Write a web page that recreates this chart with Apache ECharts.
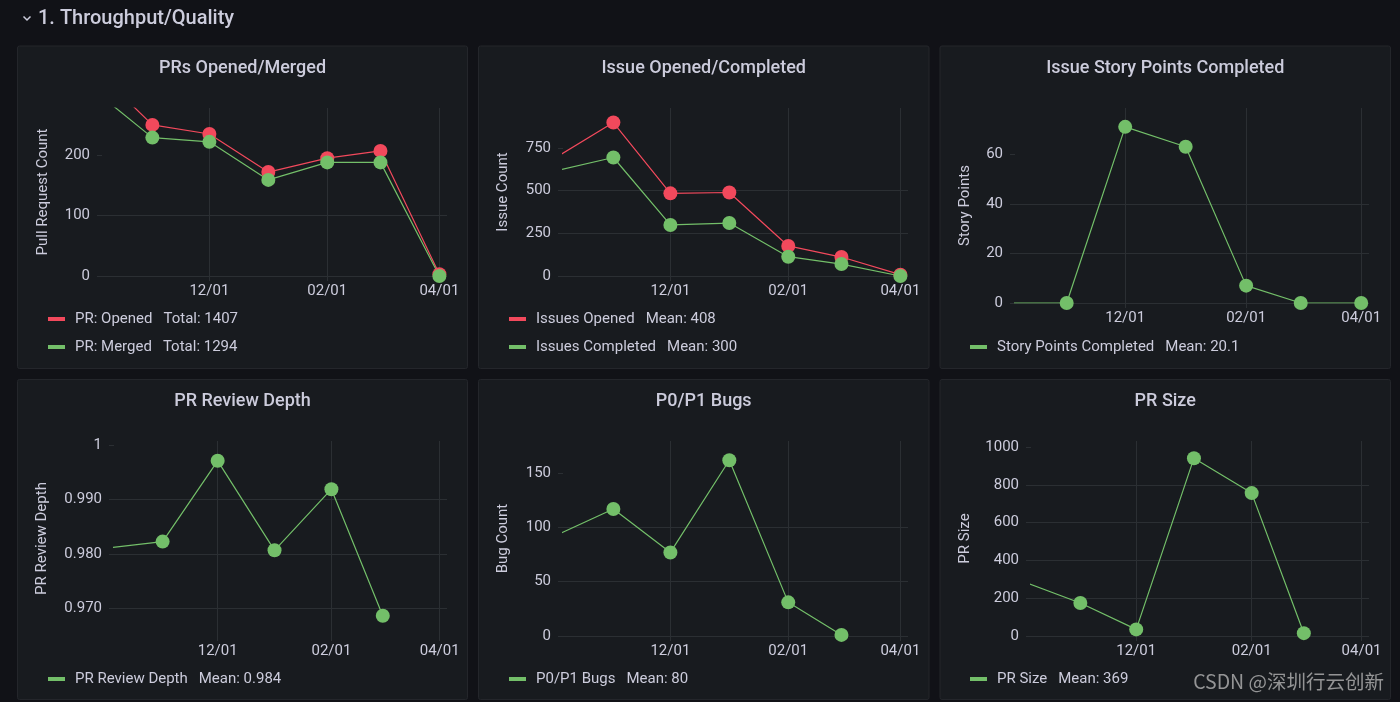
<!DOCTYPE html>
<html>
<head>
<meta charset="utf-8">
<script src="https://cdn.jsdelivr.net/npm/echarts@6/dist/echarts.min.js"></script>
<style>
html,body{margin:0;padding:0;background:#111217;}
#c{width:1400px;height:702px;}
</style>
</head>
<body>
<div id="c"></div>
<script>
// ---------- data ----------
const months = ['2022-10-01','2022-11-01','2022-12-01','2023-01-01','2023-02-01','2023-03-01','2023-04-01'];
const xTickDates = ['2022-12-01','2023-02-01','2023-04-01'];

const prOpened = [345, 250, 235, 172, 195, 207, 3];
const prMerged = [308, 229, 222, 159, 188, 188, 0];
const issuesOpened = [689, 899, 484, 489, 176, 111, 8];
const issuesCompleted = [615, 694, 299, 310, 113, 70, 0];
const storyPoints = [0, 0, 71, 63, 7, 0, 0];
const reviewDepth = [0.9811, 0.9823, 0.9971, 0.9807, 0.9919, 0.9687];
const bugs = [92, 117, 77, 162, 31, 1];
const prSize = [290, 175, 35, 942, 757, 15];

const yTicksPR = [0, 100, 200];
const yTicksIssues = [0, 250, 500, 750];
const yTicksStory = [0, 20, 40, 60];
const yTicksDepth = [0.97, 0.98, 0.99, 1];
const yTicksBugs = [0, 50, 100, 150];
const yTicksSize = [0, 200, 400, 600, 800, 1000];

const panelTitles = ['PRs Opened/Merged', 'Issue Opened/Completed', 'Issue Story Points Completed', 'PR Review Depth', 'P0/P1 Bugs', 'PR Size'];
const yAxisNames = ['Pull Request Count', 'Issue Count', 'Story Points', 'PR Review Depth', 'Bug Count', 'PR Size'];
const sectionTitle = '1. Throughput/Quality';
const watermark = 'CSDN @深圳行云创新';

// ---------- helpers ----------
function ts(s) { const p = s.split('-').map(Number); return new Date(p[0], p[1] - 1, p[2]).getTime(); }
function pairs(vals) { return vals.map((v, i) => [ts(months[i]), v]); }
function sum(a) { return a.reduce((s, v) => s + v, 0); }
function mean(a) { return sum(a) / a.length; }

const RED = '#f2495c', GREEN = '#73bf69';
const TXT = '#ccccdc';
const GRIDC = '#2b2f33';
const FONT = 'Roboto';
const xMin = new Date(2022, 9, 5, 12).getTime();
const xMax = new Date(2023, 3, 5, 0).getTime();
const xTickVals = xTickDates.map(ts);

function fmtDate(v) {
  const d = new Date(v);
  const mm = String(d.getMonth() + 1).padStart(2, '0');
  const dd = String(d.getDate()).padStart(2, '0');
  return mm + '/' + dd;
}

// grid layouts [left, top, width, height]
const grids = [
  [102, 108, 345, 168],
  [563, 108, 345, 168],
  [1015, 108, 354, 195],
  [114, 441, 333, 195],
  [563, 441, 345, 195],
  [1031, 441, 338, 195]
];
const yRanges = [[0, 278], [0, 984], [0, 78.6], [0.965, 1.00073], [0, 179.7], [0, 1033]];
const yTickSets = [yTicksPR, yTicksIssues, yTicksStory, yTicksDepth, yTicksBugs, yTicksSize];
const nameGaps = [51, 52, 42, 64, 52, 58];
const yFormatters = [
  v => String(v), v => String(v), v => String(v),
  v => (v === 1 ? '1' : v.toFixed(3)),
  v => String(v), v => String(v)
];

const xAxes = grids.map((g, i) => ({
  type: 'value', gridIndex: i, min: xMin, max: xMax,
  axisLine: { show: false },
  axisTick: { show: true, length: 5, customValues: xTickVals, lineStyle: { color: GRIDC } },
  axisLabel: { customValues: xTickVals, formatter: fmtDate, color: TXT, fontSize: 15, fontFamily: FONT, margin: 8, hideOverlap: false, showMinLabel: true, showMaxLabel: true },
  splitLine: { show: true, lineStyle: { color: GRIDC, width: 1 } }
}));

const yAxes = grids.map((g, i) => ({
  type: 'value', gridIndex: i, min: yRanges[i][0], max: yRanges[i][1],
  name: yAxisNames[i], nameLocation: 'middle', nameGap: nameGaps[i], nameMoveOverlap: false,
  nameTextStyle: { color: TXT, fontSize: 15, fontFamily: FONT },
  axisLine: { show: false },
  axisTick: { show: true, length: 5, customValues: yTickSets[i], lineStyle: { color: GRIDC } },
  axisLabel: { customValues: yTickSets[i], formatter: yFormatters[i], color: TXT, fontSize: 15, fontFamily: FONT, margin: 12 },
  splitLine: { show: true, showMinLine: true, showMaxLine: false, lineStyle: { color: GRIDC, width: 1 } }
}));

function lineSeries(name, vals, idx, color) {
  return {
    type: 'line', name: name, xAxisIndex: idx, yAxisIndex: idx,
    data: pairs(vals), symbol: 'circle', symbolSize: 14, showSymbol: true,
    lineStyle: { width: 1.2, color: color }, itemStyle: { color: color },
    clip: true, animation: false, emphasis: { disabled: true }
  };
}

const series = [
  lineSeries('PR: Opened', prOpened, 0, RED),
  lineSeries('PR: Merged', prMerged, 0, GREEN),
  lineSeries('Issues Opened', issuesOpened, 1, RED),
  lineSeries('Issues Completed', issuesCompleted, 1, GREEN),
  lineSeries('Story Points Completed', storyPoints, 2, GREEN),
  lineSeries('PR Review Depth', reviewDepth, 3, GREEN),
  lineSeries('P0/P1 Bugs', bugs, 4, GREEN),
  lineSeries('PR Size', prSize, 5, GREEN)
];

const legendStats = {
  'PR: Opened': 'Total: ' + sum(prOpened),
  'PR: Merged': 'Total: ' + sum(prMerged),
  'Issues Opened': 'Mean: ' + mean(issuesOpened).toFixed(0),
  'Issues Completed': 'Mean: ' + mean(issuesCompleted).toFixed(0),
  'Story Points Completed': 'Mean: ' + mean(storyPoints).toFixed(1),
  'PR Review Depth': 'Mean: ' + mean(reviewDepth).toFixed(3),
  'P0/P1 Bugs': 'Mean: ' + mean(bugs).toFixed(0),
  'PR Size': 'Mean: ' + mean(prSize).toFixed(0)
};

function legend(names, left, top) {
  return {
    data: names, left: left, top: top, orient: 'vertical', itemGap: 10,
    icon: 'rect', itemWidth: 17, itemHeight: 4, selectedMode: false,
    formatter: n => '{n|' + n + '}{s|' + legendStats[n] + '}',
    textStyle: {
      color: TXT, fontSize: 15, fontFamily: FONT, lineHeight: 18,
      rich: {
        n: { color: TXT, fontSize: 15, fontFamily: FONT, lineHeight: 18, padding: [0, 0, 0, 5] },
        s: { color: TXT, fontSize: 15, fontFamily: FONT, lineHeight: 18, padding: [0, 0, 0, 11] }
      }
    }
  };
}

const legends = [
  legend(['PR: Opened', 'PR: Merged'], 43, 305),
  legend(['Issues Opened', 'Issues Completed'], 504, 305),
  legend(['Story Points Completed'], 965, 333),
  legend(['PR Review Depth'], 43, 665),
  legend(['P0/P1 Bugs'], 504, 665),
  legend(['PR Size'], 965, 665)
];

// panels
const panelBoxes = [
  [17.5, 46, 450, 322.5], [478.5, 46, 450.5, 322.5], [940, 46, 450.5, 322.5],
  [17.5, 379.5, 450, 320], [478.5, 379.5, 450.5, 320], [940, 379.5, 450.5, 320]
];
const titleY = [68, 68, 68, 401, 401, 401];

const graphics = [];
panelBoxes.forEach((b, i) => {
  graphics.push({
    type: 'rect', z: -10, silent: true,
    shape: { x: b[0], y: b[1], width: b[2], height: b[3], r: 2 },
    style: { fill: '#181b1f', stroke: '#24262b', lineWidth: 1 }
  });
  graphics.push({
    type: 'text', z: 10, silent: true, x: b[0] + b[2] / 2, y: titleY[i],
    style: { text: panelTitles[i], fill: TXT, font: '500 18px Roboto', align: 'center', verticalAlign: 'middle' }
  });
});
graphics.push({
  type: 'text', silent: true, x: 38, y: 18.5,
  style: { text: sectionTitle, fill: TXT, font: '500 20px Roboto', align: 'left', verticalAlign: 'middle' }
});
graphics.push({
  type: 'polyline', silent: true,
  shape: { points: [[23.5, 16.5], [27, 20], [30.5, 16.5]] },
  style: { stroke: TXT, lineWidth: 1.5, fill: null }
});
graphics.push({
  type: 'text', silent: true, z: 20, x: 1384, y: 682,
  style: { text: watermark, fill: 'rgba(190,190,190,0.75)', font: '19.5px "Noto Sans CJK SC"', align: 'right', verticalAlign: 'middle' }
});

const chart = echarts.init(document.getElementById('c'), null, { renderer: 'canvas' });
chart.setOption({
  backgroundColor: '#111217',
  animation: false,
  textStyle: { fontFamily: FONT },
  grid: grids.map(g => ({ left: g[0], top: g[1], width: g[2], height: g[3], containLabel: false })),
  xAxis: xAxes,
  yAxis: yAxes,
  legend: legends,
  series: series,
  graphic: { elements: graphics }
});
</script>
</body>
</html>
